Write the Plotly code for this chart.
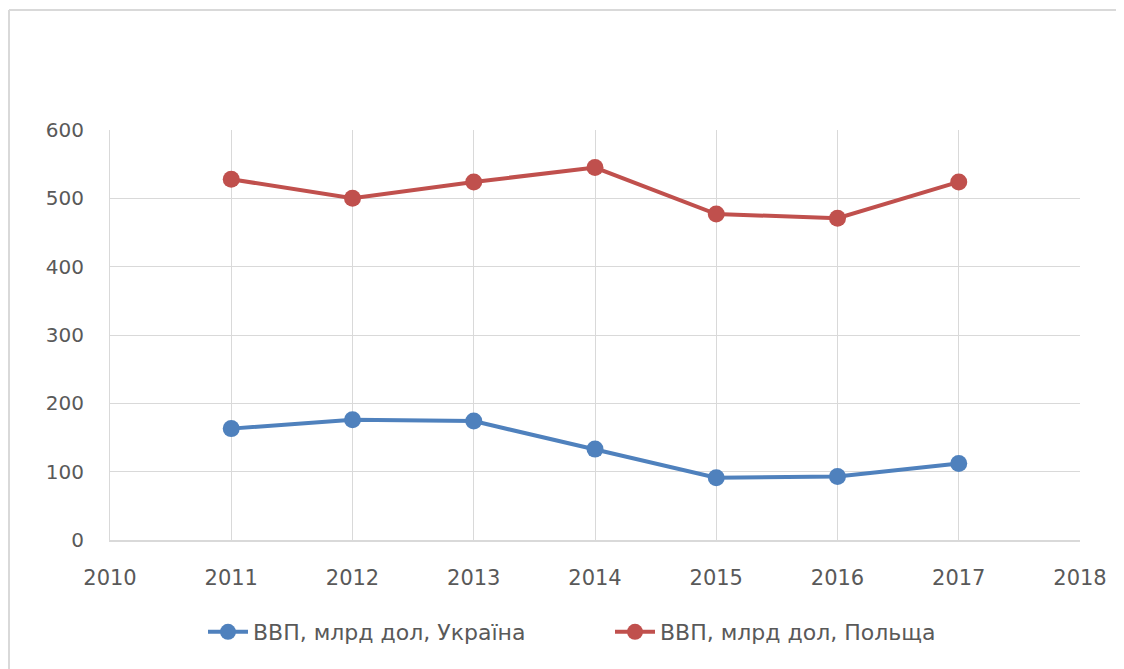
import plotly.graph_objects as go

years = [2011, 2012, 2013, 2014, 2015, 2016, 2017]
ukraine = [163, 176, 174, 133, 91, 93, 112]
poland = [528, 500, 524, 545, 477, 471, 524]
names = ["ВВП, млрд дол, Україна", "ВВП, млрд дол, Польща"]
colors = ["#4f81bd", "#c0504d"]

fig = go.Figure()
for vals, name, col in zip([ukraine, poland], names, colors):
    fig.add_trace(go.Scatter(
        x=years, y=vals, name=name, mode="lines+markers",
        line=dict(color=col, width=4),
        marker=dict(color=col, size=17),
    ))

# page offset of 8px (body margin) is accounted for
OFF = 8
W, H = 1116, 661
L, R, T, B = 102, 44, 122, 129
pw, ph = W - L - R, H - T - B

def px(x):
    return (x - OFF - L) / pw

def py(y):
    return (H - B - (y - OFF)) / ph

border = "#d9d9d9"
fig.update_layout(
    width=W, height=H,
    margin=dict(l=L, r=R, t=T, b=B, autoexpand=False),
    paper_bgcolor="white", plot_bgcolor="white",
    font=dict(family="DejaVu Sans", size=20, color="#595959"),
    showlegend=True,
    legend=dict(orientation="h", x=px(203), xanchor="left", y=py(632), yanchor="middle",
                font=dict(size=22, color="#595959"), itemwidth=40,
                entrywidth=352, entrywidthmode="pixels",
                traceorder="normal"),
    xaxis=dict(range=[2010, 2018], tickmode="array",
               tickvals=list(range(2010, 2019)),
               ticktext=[str(v) for v in range(2010, 2019)],
               showgrid=True, gridcolor="#d9d9d9", gridwidth=1,
               zeroline=False, showline=True, linecolor="#d9d9d9", linewidth=1.5,
               tickfont=dict(size=21, color="#595959"), ticks="",
               ticklabelstandoff=18, fixedrange=True),
    yaxis=dict(range=[0, 600], tickmode="array", tickvals=[0, 100, 200, 300, 400, 500, 600],
               showgrid=True, gridcolor="#d9d9d9", gridwidth=1,
               zeroline=False, showline=True, linecolor="#d9d9d9", linewidth=1,
               tickfont=dict(size=20, color="#595959"), ticks="",
               ticklabelstandoff=21, fixedrange=True),
    shapes=[
        dict(type="line", xref="paper", yref="paper", x0=px(9), x1=px(9), y0=py(10), y1=py(672),
             line=dict(color=border, width=2)),
        dict(type="line", xref="paper", yref="paper", x0=px(9), x1=px(1119), y0=py(10), y1=py(10),
             line=dict(color=border, width=2)),
        dict(type="line", xref="paper", yref="paper", x0=px(1119), x1=px(1119), y0=py(10), y1=py(672),
             line=dict(color=border, width=2)),
    ],
)

fig.write_html("out.html")
